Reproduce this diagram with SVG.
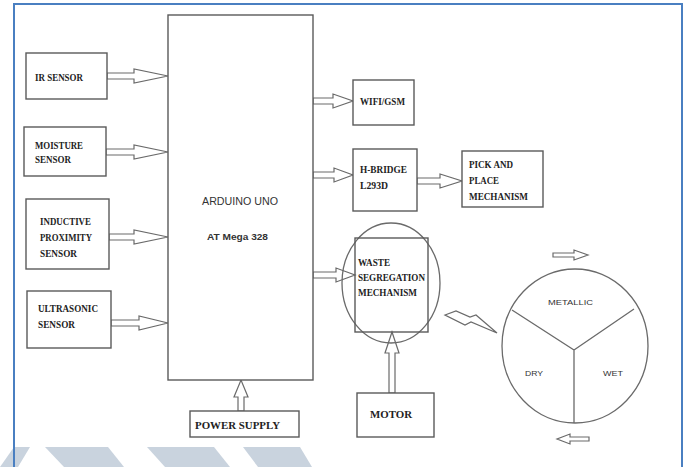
<svg xmlns="http://www.w3.org/2000/svg" width="685" height="467" viewBox="0 0 685 467">
<style>
.box{fill:#fff;stroke:#5a5a5a;stroke-width:1.4}
.arr{fill:#fff;stroke:#6a6a6a;stroke-width:1.2;stroke-linejoin:miter}
.lbl{font-family:"Liberation Serif",serif;font-weight:bold;font-size:9.8px;fill:#222}
.big{font-size:11px}
.sans{font-family:"Liberation Sans",sans-serif;fill:#333}
.ln{stroke:#6a6a6a;stroke-width:1.3;fill:none}
.wm{fill:#c9d3de}
</style>
<rect width="685" height="467" fill="#fff"/>
<g id="watermark">
<polygon class="wm" points="14,447 30,447 18,467 0,467"/>
<polygon class="wm" points="45,447 108,447 124,467 64,467"/>
<polygon class="wm" points="147,447 214,447 230,467 165,467"/>
<polygon class="wm" points="243,447 300,447 312,467 258,467"/>
</g>
<path d="M14,467 V4 H682 V467" fill="none" stroke="#4a7fc1" stroke-width="2"/>
<g id="connectors">
<polygon class="arr" points="107,73 134,73 134,69 168,76 134,83 134,79 107,79"/>
<polygon class="arr" points="106,149 134,149 134,145 168,152 134,159 134,155 106,155"/>
<polygon class="arr" points="109,234 134,234 134,230 168,237 134,244 134,240 109,240"/>
<polygon class="arr" points="111,320 139,320 139,316 168,323 139,330 139,326 111,326"/>
<polygon class="arr" points="238,411 238,397 234,397 241,380 248,397 244,397 244,411"/>
<polygon class="arr" points="313,98 333,98 333,94 353,101 333,108 333,104 313,104"/>
<polygon class="arr" points="313,172 334,172 334,168 353,175 334,182 334,178 313,178"/>
<polygon class="arr" points="417,178 440,178 440,174 462,181 440,188 440,184 417,184"/>
<polygon class="arr" points="313,272 336,272 336,268 355,275 336,282 336,278 313,278"/>
<polygon class="arr" points="389,393 389,353 385,353 392,332 399,353 395,353 395,393"/>
<polygon class="arr" points="553,253 574,253 574,250 588,255 574,260 574,257 553,257"/>
<polygon class="arr" points="589,437 570,437 570,434 557,439 570,444 570,441 589,441"/>
<polygon class="arr" points="445,315 456,311 470,317 476,315 497,333 471,322 465,325"/>
</g>
<g id="ir-sensor">
<rect class="box" x="26" y="53" width="81" height="46"/>
<text class="lbl" x="35" y="81" textLength="48" lengthAdjust="spacingAndGlyphs">IR SENSOR</text>
</g>
<g id="moisture-sensor">
<rect class="box" x="24" y="127" width="82" height="49"/>
<text class="lbl" x="35" y="149" textLength="48" lengthAdjust="spacingAndGlyphs">MOISTURE</text>
<text class="lbl" x="35" y="163" textLength="36" lengthAdjust="spacingAndGlyphs">SENSOR</text>
</g>
<g id="inductive-sensor">
<rect class="box" x="26" y="199" width="83" height="70"/>
<text class="lbl" x="40" y="225" textLength="51" lengthAdjust="spacingAndGlyphs">INDUCTIVE</text>
<text class="lbl" x="40" y="241" textLength="52" lengthAdjust="spacingAndGlyphs">PROXIMITY</text>
<text class="lbl" x="40" y="257" textLength="37" lengthAdjust="spacingAndGlyphs">SENSOR</text>
</g>
<g id="ultrasonic-sensor">
<rect class="box" x="27" y="291" width="84" height="57"/>
<text class="lbl" x="38" y="312" textLength="60" lengthAdjust="spacingAndGlyphs">ULTRASONIC</text>
<text class="lbl" x="38" y="328" textLength="37" lengthAdjust="spacingAndGlyphs">SENSOR</text>
</g>
<g id="arduino">
<rect class="box" x="168" y="15" width="145" height="365"/>
<text class="sans" x="202" y="205" font-size="11.5" textLength="76" lengthAdjust="spacingAndGlyphs">ARDUINO UNO</text>
<text class="sans" x="207" y="240" font-size="9" font-weight="bold" textLength="61" lengthAdjust="spacingAndGlyphs">AT Mega 328</text>
</g>
<g id="power-supply">
<rect class="box" x="190" y="411" width="109" height="26"/>
<text class="lbl big" x="195" y="429" textLength="85" lengthAdjust="spacingAndGlyphs">POWER SUPPLY</text>
</g>
<g id="wifi-gsm">
<rect class="box" x="353" y="80" width="61" height="45"/>
<text class="lbl" x="360" y="105" textLength="45" lengthAdjust="spacingAndGlyphs">WIFI/GSM</text>
</g>
<g id="h-bridge">
<rect class="box" x="353" y="149" width="64" height="62"/>
<text class="lbl" x="360" y="173" textLength="47" lengthAdjust="spacingAndGlyphs">H-BRIDGE</text>
<text class="lbl" x="360" y="189" textLength="28" lengthAdjust="spacingAndGlyphs">L293D</text>
</g>
<g id="pick-place">
<rect class="box" x="462" y="151" width="81" height="56"/>
<text class="lbl" x="469" y="168" textLength="44" lengthAdjust="spacingAndGlyphs">PICK AND</text>
<text class="lbl" x="469" y="184" textLength="30" lengthAdjust="spacingAndGlyphs">PLACE</text>
<text class="lbl" x="469" y="200" textLength="59" lengthAdjust="spacingAndGlyphs">MECHANISM</text>
</g>
<g id="waste-segregation">
<ellipse class="ln" cx="391" cy="283" rx="49" ry="60"/>
<rect class="box" x="355" y="238" width="73" height="94" style="fill:none"/>
<text class="lbl" x="358" y="266" textLength="32" lengthAdjust="spacingAndGlyphs">WASTE</text>
<text class="lbl" x="358" y="281" textLength="67" lengthAdjust="spacingAndGlyphs">SEGREGATION</text>
<text class="lbl" x="358" y="296" textLength="59" lengthAdjust="spacingAndGlyphs">MECHANISM</text>
</g>
<g id="motor">
<rect class="box" x="357" y="393" width="77" height="44"/>
<text class="lbl big" x="370" y="418" textLength="42" lengthAdjust="spacingAndGlyphs">MOTOR</text>
</g>
<g id="bin">
<ellipse class="ln" cx="575" cy="346" rx="73" ry="77"/>
<path class="ln" d="M512,310 L574,350 L634,309 M574,350 V423"/>
<text class="sans" x="548" y="305" font-size="7.5" textLength="45" lengthAdjust="spacingAndGlyphs">METALLIC</text>
<text class="sans" x="525" y="376" font-size="7.5" textLength="18" lengthAdjust="spacingAndGlyphs">DRY</text>
<text class="sans" x="603" y="376" font-size="7.5" textLength="20" lengthAdjust="spacingAndGlyphs">WET</text>
</g>
</svg>
